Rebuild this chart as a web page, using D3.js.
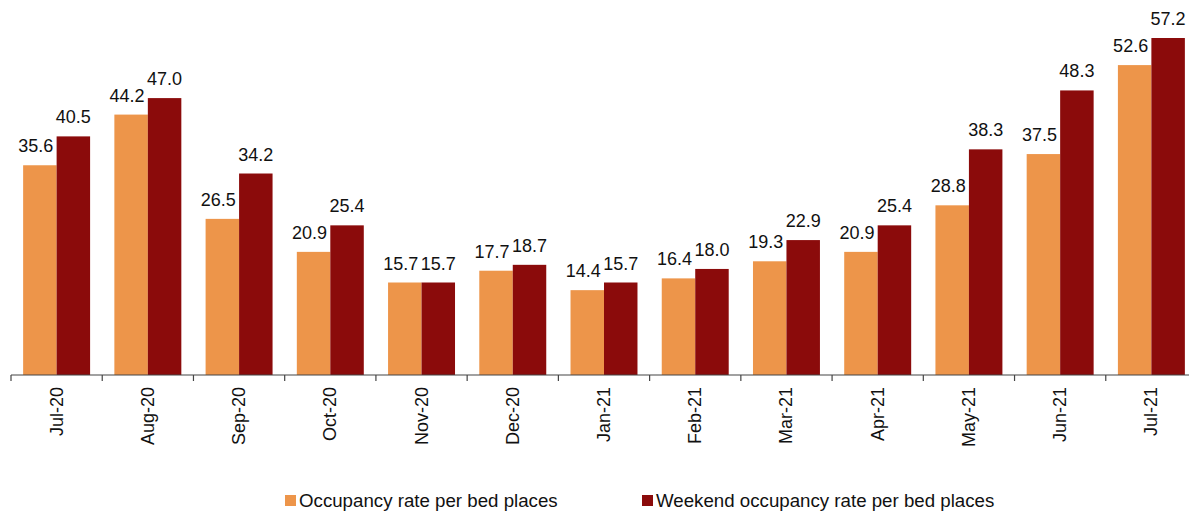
<!DOCTYPE html>
<html>
<head>
<meta charset="utf-8">
<script src="https://cdn.jsdelivr.net/npm/d3@7"></script>
<style>
  body { margin: 0; background: #fff; }
  svg { display: block; font-family: "Liberation Sans", Arial, sans-serif; }
</style>
</head>
<body>
<svg id="chart"></svg>
<script>
const months = ["Jul-20", "Aug-20", "Sep-20", "Oct-20", "Nov-20", "Dec-20", "Jan-21",
                "Feb-21", "Mar-21", "Apr-21", "May-21", "Jun-21", "Jul-21"];
const occupancy = [35.6, 44.2, 26.5, 20.9, 15.7, 17.7, 14.4, 16.4, 19.3, 20.9, 28.8, 37.5, 52.6];
const weekend   = [40.5, 47.0, 34.2, 25.4, 15.7, 18.7, 15.7, 18.0, 22.9, 25.4, 38.3, 48.3, 57.2];
const seriesNames = ["Occupancy rate per bed places", "Weekend occupancy rate per bed places"];
const colors = ["#ed954a", "#8b0b0b"];

const W = 1189, H = 513;
const baseY = 375;

const svg = d3.select("#chart").attr("width", W).attr("height", H);

const x = d3.scaleBand()
  .domain(months)
  .range([11, 1197])
  .paddingInner(0.266)
  .paddingOuter(0.133);

const xSub = d3.scaleBand()
  .domain([0, 1])
  .range([0, x.bandwidth()]);

const y = d3.scaleLinear().domain([0, 57.2]).range([baseY, 38]);

const rows = months.map((m, i) => ({ month: m, values: [occupancy[i], weekend[i]] }));

const groups = svg.append("g").selectAll("g")
  .data(rows)
  .join("g")
  .attr("transform", d => `translate(${x(d.month)},0)`);

groups.selectAll("rect")
  .data(d => d.values.map((v, k) => ({ v, k })))
  .join("rect")
  .attr("x", d => xSub(d.k))
  .attr("width", xSub.bandwidth())
  .attr("y", d => y(d.v))
  .attr("height", d => baseY - y(d.v))
  .attr("fill", d => colors[d.k]);

groups.selectAll("text.val")
  .data(d => d.values.map((v, k) => ({ v, k })))
  .join("text")
  .attr("class", "val")
  .attr("x", d => xSub(d.k) + xSub.bandwidth() / 2 - (d.k === 0 ? 4 : 0))
  .attr("y", d => y(d.v) - 13)
  .attr("text-anchor", "middle")
  .style("font-size", "18px")
  .attr("fill", "#111")
  .text(d => d.v.toFixed(1));

// axis line with ticks between categories
const axis = svg.append("g");
axis.append("line")
  .attr("x1", 11).attr("x2", 1197)
  .attr("y1", baseY).attr("y2", baseY)
  .attr("stroke", "#444").attr("stroke-width", 1.2);

const boundaries = d3.range(months.length + 1).map(i => 11 + i * x.step());
axis.selectAll("line.tick")
  .data(boundaries)
  .join("line")
  .attr("class", "tick")
  .attr("x1", d => d).attr("x2", d => d)
  .attr("y1", baseY).attr("y2", baseY + 6)
  .attr("stroke", "#444").attr("stroke-width", 1.2);

axis.selectAll("text")
  .data(months)
  .join("text")
  .attr("transform", d => `translate(${x(d) + x.bandwidth() / 2 + 6},${baseY + 12}) rotate(-90)`)
  .attr("text-anchor", "end")
  .style("font-size", "18px")
  .attr("fill", "#111")
  .text(d => d);

// legend
const legendX = [285, 642];
const legend = svg.append("g");
seriesNames.forEach((name, k) => {
  legend.append("rect")
    .attr("x", legendX[k]).attr("y", 495)
    .attr("width", 11).attr("height", 11)
    .attr("fill", colors[k]);
  legend.append("text")
    .attr("x", legendX[k] + 14).attr("y", 507)
    .style("font-size", "18.7px")
    .attr("fill", "#111")
    .text(name);
});
</script>
</body>
</html>
